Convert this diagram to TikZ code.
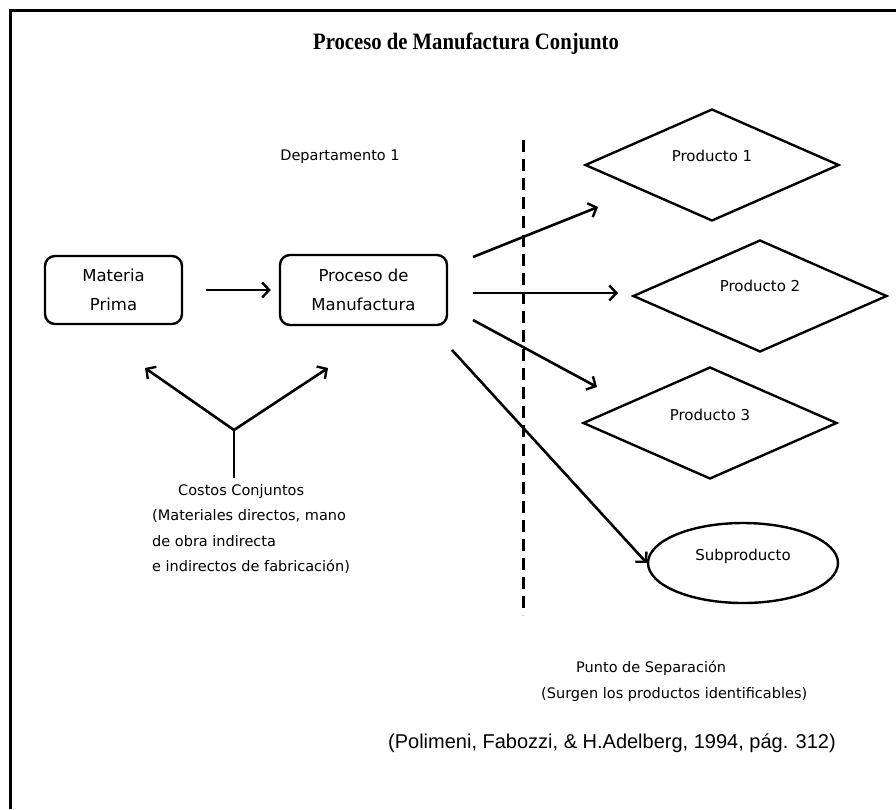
\documentclass[tikz,border=0pt]{standalone}
\usepackage{fontspec}
\setmainfont{DejaVu Sans}
\newfontfamily\titlefont[FakeStretch=0.88]{Liberation Serif}
\newfontfamily\citefont{Liberation Sans}
\usetikzlibrary{shapes.geometric,arrows.meta}

\begin{document}
\begin{tikzpicture}[every node/.style={inner sep=0pt},
  caja/.style={rectangle, rounded corners=10pt, draw=black, line width=2.4pt, minimum width=137pt, minimum height=68pt, align=center, font=\fontsize{16.5}{29}\selectfont},
  prod/.style={diamond, draw=black, line width=2.4pt, minimum width=254pt, minimum height=112pt, font=\fontsize{15}{17}\selectfont},
  flecha/.style={line width=2.6pt, -{Straight Barb[length=7pt,width=15pt,line width=2.4pt]}},
  txt/.style={font=\fontsize{14.5}{25.5}\selectfont}]
\useasboundingbox (0pt,0pt) rectangle (896pt,-809pt);
\draw [line width=3pt] (10pt,-809pt) -- (10pt,-10pt) -- (896pt,-10pt);
\node (titulo) at (466pt,-44pt) {\titlefont\bfseries\fontsize{23.5}{28}\selectfont Proceso de Manufactura Conjunto};
\node (depto) [txt] at (340pt,-157pt) {Departamento 1};
\node (mp) [caja] at (113.5pt,-290pt) {Materia\\Prima};
\node (pm) [caja, minimum width=167pt, minimum height=70pt] at (363.5pt,-290pt) {Proceso de\\Manufactura};
\node (p1) [prod] at (712pt,-165pt) {\raisebox{18pt}{Producto 1}};
\node (p2) [prod] at (760pt,-296pt) {\raisebox{20pt}{Producto 2}};
\node (p3) [prod] at (710pt,-423pt) {\raisebox{16pt}{Producto 3}};
\node (sp) [ellipse, draw=black, line width=2.4pt, minimum width=190pt, minimum height=80pt, font=\fontsize{15}{17}\selectfont] at (743pt,-563pt) {\raisebox{16pt}{Subproducto}};
\node (costos) [txt, align=left, anchor=north west] at (152pt,-484pt) {\hspace*{26pt}Costos Conjuntos\\(Materiales directos, mano\\de obra indirecta\\e indirectos de fabricación)};
\node (punto) [txt, align=left, anchor=north west] at (541pt,-661pt) {\hspace*{35pt}Punto de Separación\\(Surgen los productos identificables)};
\node (cita) at (612pt,-743pt) {\citefont\fontsize{20}{22}\selectfont (Polimeni, Fabozzi, \& H.Adelberg, 1994, pág. 312)};
\coordinate (dtop) at (523pt,-140pt);
\coordinate (dbot) at (523pt,-615pt);
\coordinate (a1) at (473pt,-257pt);
\coordinate (b1) at (598pt,-207pt);
\coordinate (a2) at (473pt,-293pt);
\coordinate (b2) at (618pt,-293pt);
\coordinate (a3) at (473pt,-320pt);
\coordinate (b3) at (597pt,-387pt);
\coordinate (a4) at (452pt,-350pt);
\coordinate (yj) at (234pt,-430pt);
\coordinate (yl) at (145pt,-368pt);
\coordinate (yr) at (328pt,-368pt);
\draw [line width=3pt, dash pattern=on 12pt off 7pt] (dtop) -- (dbot);
\draw [flecha, shorten <=23pt, shorten >=8pt] (mp) -- (pm);
\draw [flecha] (a1) -- (b1);
\draw [flecha] (a2) -- (b2);
\draw [flecha] (a3) -- (b3);
\draw [flecha] (a4) -- (sp.west);
\draw [flecha] (yj) -- (yl);
\draw [flecha] (yj) -- (yr);
\draw [line width=2.6pt, shorten >=6pt] (yj) -- (yj |- costos.north);
\end{tikzpicture}
\end{document}
